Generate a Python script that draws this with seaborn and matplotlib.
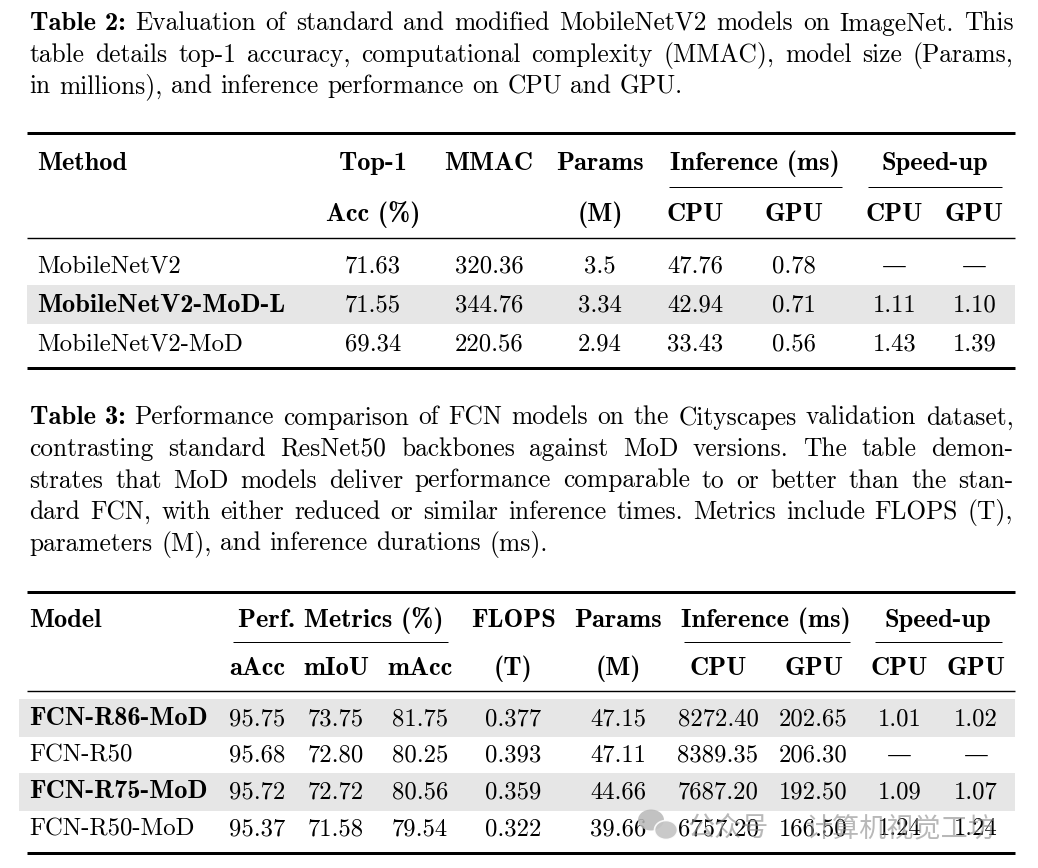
import matplotlib
matplotlib.use("Agg")
import matplotlib.pyplot as plt
from matplotlib.patches import Rectangle, Ellipse
import seaborn as sns

# ---------------- data ----------------
cap2_lines = [
    ["Table 2:", "Evaluation", "of", "standard", "and", "modified", "MobileNetV2", "models", "on", "ImageNet.", "This"],
    ["table", "details", "top-1", "accuracy,", "computational", "complexity", "(MMAC),", "model", "size", "(Params,"],
    ["in", "millions),", "and", "inference", "performance", "on", "CPU", "and", "GPU."],
]
cap3_lines = [
    ["Table 3:", "Performance", "comparison", "of", "FCN", "models", "on", "the", "Cityscapes", "validation", "dataset,"],
    ["contrasting", "standard", "ResNet50", "backbones", "against", "MoD", "versions.", "The", "table", "demon-"],
    ["strates", "that", "MoD", "models", "deliver", "performance", "comparable", "to", "or", "better", "than", "the", "stan-"],
    ["dard", "FCN,", "with", "either", "reduced", "or", "similar", "inference", "times.", "Metrics", "include", "FLOPS", "(T),"],
    ["parameters", "(M),", "and", "inference", "durations", "(ms)."],
]

t2_head1 = ["Method", "Top-1", "MMAC", "Params", "Inference (ms)", "Speed-up"]
t2_head2 = ["", "Acc (%)", "", "(M)", "CPU", "GPU", "CPU", "GPU"]
t2_methods = ["MobileNetV2", "MobileNetV2-MoD-L", "MobileNetV2-MoD"]
t2_bold = [False, True, False]
t2_top1 = ["71.63", "71.55", "69.34"]
t2_mmac = ["320.36", "344.76", "220.56"]
t2_params = ["3.5", "3.34", "2.94"]
t2_cpu = ["47.76", "42.94", "33.43"]
t2_gpu = ["0.78", "0.71", "0.56"]
t2_su_cpu = ["\u2014", "1.11", "1.43"]
t2_su_gpu = ["\u2014", "1.10", "1.39"]

t3_head1 = ["Model", "Perf. Metrics (%)", "FLOPS", "Params", "Inference (ms)", "Speed-up"]
t3_head2 = ["", "aAcc", "mIoU", "mAcc", "(T)", "(M)", "CPU", "GPU", "CPU", "GPU"]
t3_models = ["FCN-R86-MoD", "FCN-R50", "FCN-R75-MoD", "FCN-R50-MoD"]
t3_bold = [True, False, True, False]
t3_aacc = ["95.75", "95.68", "95.72", "95.37"]
t3_miou = ["73.75", "72.80", "72.72", "71.58"]
t3_macc = ["81.75", "80.25", "80.56", "79.54"]
t3_flops = ["0.377", "0.393", "0.359", "0.322"]
t3_params = ["47.15", "47.11", "44.66", "39.66"]
t3_cpu = ["8272.40", "8389.35", "7687.20", "6757.20"]
t3_gpu = ["202.65", "206.30", "192.50", "166.50"]
t3_su_cpu = ["1.01", "\u2014", "1.09", "1.24"]
t3_su_gpu = ["1.02", "\u2014", "1.07", "1.24"]

watermark = ["公众号", "计算机视觉工坊"]

# ---------------- style ----------------
sns.set_theme(style="white")
plt.rcParams["font.family"] = ["cmr10", "DejaVu Serif"]
plt.rcParams["axes.unicode_minus"] = False

REG = ["cmr10", "DejaVu Serif"]
BOLD = ["cmb10", "DejaVu Serif"]
FS_CAP = 18.3
FS_CAP_B = 19.2
FS_TAB = 17.8
FS_TAB_B = 19.0

W, H = 1038, 868
fig = plt.figure(figsize=(W / 100, H / 100), dpi=100)
fig.patch.set_facecolor("white")
ax = fig.add_axes([0, 0, 1, 1])
ax.set_xlim(0, W)
ax.set_ylim(H, 0)
ax.set_axis_off()
renderer = fig.canvas.get_renderer()


def txt(x, y, s, bold=False, ha="center", fs=None):
    if fs is None:
        fs = FS_TAB_B if bold else FS_TAB
    return ax.text(x, y, s, family=BOLD if bold else REG, fontsize=fs,
                   ha=ha, va="baseline", color="black", zorder=3)


def caption(lines, baselines, x0=29.5, x1=1013.5):
    em = FS_CAP * 100 / 72
    for li, (words, yb) in enumerate(zip(lines, baselines)):
        texts = []
        for w in words:
            b = w.startswith("Table")
            texts.append(ax.text(0, yb, w, family=BOLD if b else REG,
                                 fontsize=FS_CAP_B if b else FS_CAP,
                                 ha="left", va="baseline", color="black", zorder=3))
        widths = [t.get_window_extent(renderer).width for t in texts]
        last = li == len(lines) - 1
        if last:
            gap = 0.333 * em
        else:
            gap = (x1 - x0 - sum(widths)) / (len(words) - 1)
        x = x0
        for t, wd in zip(texts, widths):
            t.set_x(x)
            x += wd + gap


def hrule(y, x0, x1, px):
    ax.plot([x0, x1], [y, y], color="black", lw=px * 0.72, solid_capstyle="butt", zorder=2)


def band(y0, y1, x0, x1):
    ax.add_patch(Rectangle((x0, y0), x1 - x0, y1 - y0, facecolor="#e6e6e6",
                           edgecolor="none", zorder=1))


# ---------------- Table 2 ----------------
caption(cap2_lines, [30.5, 61.8, 93.0])

L, R = 27, 1015
hrule(133, L, R, 3)
band(285, 324, L, R)
t2_x = [37, 373, 489, 600, 695.5, 794, 894.5, 974.5]
h1x = [37, 373, 489, 600, 754.5, 935]
for i, (s, x) in enumerate(zip(t2_head1, h1x)):
    txt(x, 170, s, bold=True, ha="left" if i == 0 else "center")
hrule(186.7, 669, 842, 1)
hrule(186.7, 868, 1002, 1)
for s, x in zip(t2_head2, t2_x):
    if s:
        txt(x, 221, s, bold=True)
hrule(238, L, R, 1.4)
rows_y2 = [272.7, 311.7, 350.3]
cols2 = [t2_top1, t2_mmac, t2_params, t2_cpu, t2_gpu, t2_su_cpu, t2_su_gpu]
for r, y in enumerate(rows_y2):
    txt(t2_x[0], y, t2_methods[r], bold=t2_bold[r], ha="left")
    for c, col in enumerate(cols2):
        txt(t2_x[c + 1], y, col[r])
hrule(368, L, R, 3)

# ---------------- Table 3 ----------------
caption(cap3_lines, [424.5, 456, 487.5, 519, 550.5])

hrule(591.7, L, R, 3)
band(699, 736.7, 19, R)
band(773.3, 810.7, 19, R)
t3_x = [29.3, 257.5, 336, 420, 513.3, 618.3, 718, 813.5, 899.5, 976]
h31x = [29.3, 341, 513.3, 618.3, 766, 938]
for i, (s, x) in enumerate(zip(t3_head1, h31x)):
    txt(x, 626.7, s, bold=True, ha="left" if i == 0 else "center")
hrule(641.7, 233, 448, 1)
hrule(641.7, 684, 850, 1)
hrule(641.7, 875, 1002, 1)
for s, x in zip(t3_head2, t3_x):
    if s:
        txt(x, 675, s, bold=True)
hrule(691, L, R, 1.4)
rows_y3 = [725, 761.7, 798.3, 835]
cols3 = [t3_aacc, t3_miou, t3_macc, t3_flops, t3_params, t3_cpu, t3_gpu, t3_su_cpu, t3_su_gpu]
for r, y in enumerate(rows_y3):
    txt(t3_x[0], y, t3_models[r], bold=t3_bold[r], ha="left")
    for c, col in enumerate(cols3):
        txt(t3_x[c + 1], y, col[r])
hrule(852.7, L, R, 3)

# ---------------- watermark ----------------
ax.add_patch(Ellipse((651, 820), 26, 21, facecolor="#b8b8b8", edgecolor="none", alpha=0.85, zorder=4))
ax.add_patch(Ellipse((666, 830), 23, 19, facecolor="#c4c4c4", edgecolor="white", lw=1.2, alpha=0.9, zorder=4))
ax.text(688, 829, watermark[0], family=["Noto Sans CJK SC", "DejaVu Sans"], fontsize=19.5,
        color="#8a8a8a", alpha=0.6, ha="left", va="center", zorder=4)
ax.text(806, 829, watermark[1], family=["Noto Sans CJK SC", "DejaVu Sans"], fontsize=19.5,
        color="#8a8a8a", alpha=0.6, ha="left", va="center", zorder=4)

fig.savefig("out.png", dpi=100, facecolor="white")
